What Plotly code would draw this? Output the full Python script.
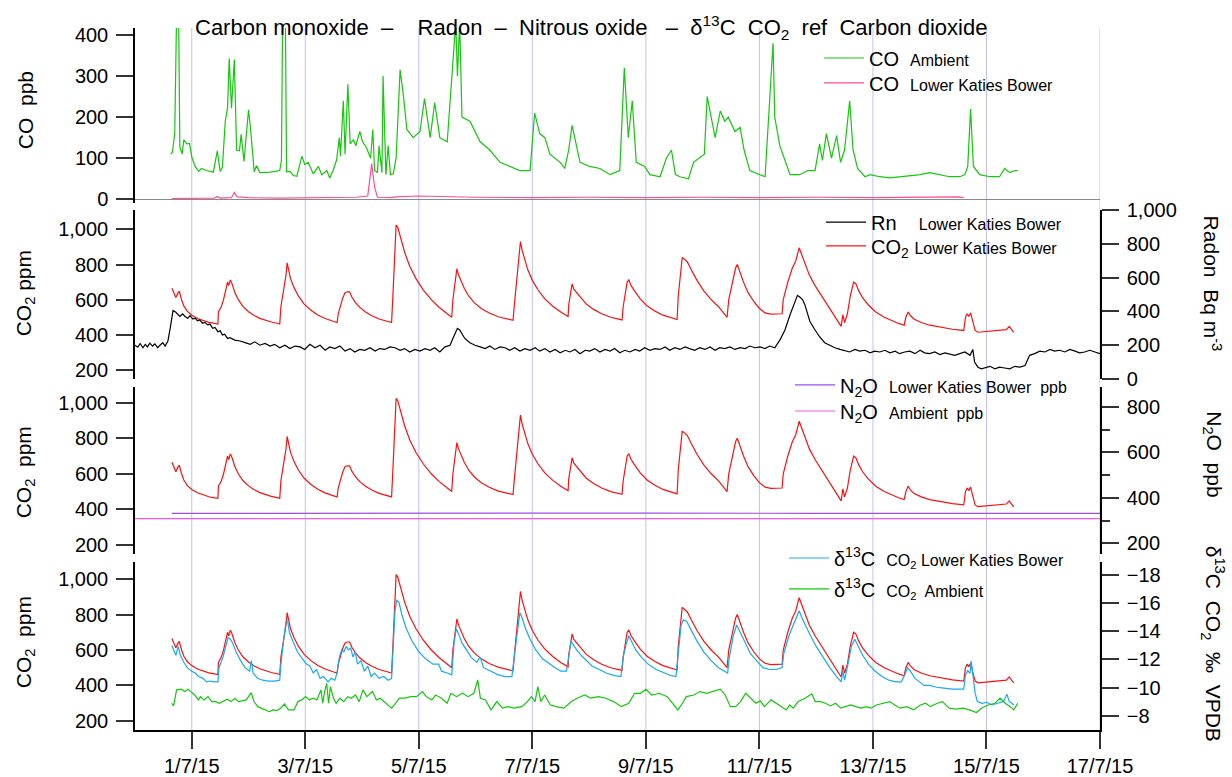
import pandas as pd
import plotly.graph_objects as go

# ---------------- data (time = days since 30/6/2015 00:00, i.e. 1.0 = 1/7/15 00:00) ----------------
co2_t = [0.65, 0.70, 0.72, 0.76, 0.78, 0.82, 0.86, 0.92, 1.00, 1.10, 1.20, 1.30, 1.40, 1.46,
         1.47, 1.52, 1.56, 1.60, 1.63, 1.65, 1.68, 1.71, 1.76, 1.82, 1.90, 2.00, 2.10, 2.20, 2.30, 2.40, 2.50, 2.55,
         2.57, 2.60, 2.63, 2.66, 2.68, 2.71, 2.74, 2.80, 2.88, 2.98, 3.10, 3.22, 3.35, 3.50, 3.56,
         3.58, 3.62, 3.66, 3.70, 3.74, 3.78, 3.82, 3.88, 3.96, 4.06, 4.18, 4.30, 4.42, 4.52,
         4.54, 4.57, 4.60, 4.63, 4.68, 4.75, 4.84, 4.95, 5.08, 5.22, 5.36, 5.50, 5.58,
         5.60, 5.64, 5.67, 5.70, 5.74, 5.80, 5.88, 5.98, 6.10, 6.24, 6.40, 6.55, 6.66,
         6.68, 6.72, 6.76, 6.79, 6.82, 6.86, 6.92, 7.00, 7.10, 7.22, 7.36, 7.50, 7.63,
         7.64, 7.67, 7.70, 7.73, 7.78, 7.85, 7.95, 8.08, 8.22, 8.38, 8.52, 8.58,
         8.60, 8.64, 8.67, 8.70, 8.74, 8.80, 8.90, 9.02, 9.16, 9.30, 9.45, 9.55,
         9.57, 9.61, 9.64, 9.68, 9.73, 9.80, 9.90, 10.02, 10.15, 10.28, 10.38, 10.43,
         10.46, 10.52, 10.58, 10.61, 10.65, 10.72, 10.80, 10.90, 11.00, 11.10, 11.20, 11.30, 11.40,
         11.42, 11.50, 11.58, 11.64, 11.70, 11.74, 11.80, 11.88, 11.98, 12.10, 12.22, 12.34, 12.44,
         12.47, 12.50, 12.55, 12.60, 12.66, 12.70, 12.75, 12.82, 12.92, 13.05, 13.20, 13.35, 13.45, 13.55,
         13.58, 13.62, 13.66, 13.72, 13.85, 14.00, 14.20, 14.40, 14.60,
         14.63, 14.66, 14.69, 14.72, 14.76, 14.80, 14.85, 15.00, 15.20, 15.35, 15.40, 15.44, 15.48]
co2_lkb = [665, 625, 612, 640, 648, 600, 565, 535, 512, 493, 480, 471, 465, 462,
           530, 560, 600, 650, 700, 680, 712, 690, 640, 600, 562, 532, 510, 494, 482, 473, 466, 462,
           560, 620, 700, 740, 810, 770, 720, 670, 620, 575, 540, 513, 493, 476, 470,
           520, 570, 610, 640, 645, 645, 615, 585, 556, 530, 507, 490, 478, 470,
           600, 850, 1025, 1010, 950, 870, 790, 720, 655, 600, 556, 520, 500,
           600, 700, 775, 740, 710, 665, 620, 582, 550, 524, 503, 490, 483,
           560, 700, 850, 930, 880, 830, 770, 710, 655, 605, 563, 530, 505,
           570, 640, 690, 660, 640, 610, 575, 545, 520, 500, 488, 485,
           560, 650, 700, 712, 680, 650, 605, 565, 535, 512, 495, 487,
           620, 760, 840, 830, 815, 770, 710, 650, 600, 560, 520, 500,
           600, 700, 780, 800, 760, 700, 640, 590, 550, 525, 518, 518, 520,
           600, 700, 780, 820, 895, 860, 800, 740, 680, 620, 560, 500, 448,
           515, 470, 520, 620, 700, 690, 650, 610, 570, 530, 500, 478, 465, 455,
           500, 530, 510, 490, 470, 455, 442, 432, 425,
           500, 520, 505, 525, 470, 425, 415, 420, 425, 430, 448, 430, 414]

rn_t = [0.0, 0.05, 0.09, 0.14, 0.18, 0.22, 0.26, 0.31, 0.35, 0.40, 0.44, 0.49, 0.53, 0.58, 0.62, 0.67, 0.72,
        0.79, 0.84, 0.88, 0.93, 0.97, 1.02, 1.06, 1.10, 1.14, 1.19, 1.23, 1.28, 1.32, 1.37, 1.41, 1.46, 1.50,
        1.54, 1.58, 1.63, 1.67, 1.76, 1.85, 1.94, 2.03, 2.11, 2.20, 2.29, 2.38, 2.46, 2.55, 2.64, 2.73, 2.82,
        2.91, 2.99, 3.08, 3.17, 3.26, 3.35, 3.43, 3.52, 3.61, 3.70, 3.79, 3.87, 3.96, 4.05, 4.14, 4.23, 4.31,
        4.40, 4.49, 4.58, 4.67, 4.75, 4.84, 4.93, 5.02, 5.11, 5.20, 5.28, 5.37, 5.46, 5.55, 5.60, 5.64, 5.68,
        5.72, 5.77, 5.81, 5.90, 5.99, 6.08, 6.17, 6.25, 6.34, 6.43, 6.52, 6.60, 6.69, 6.78, 6.87, 6.96, 7.05,
        7.13, 7.22, 7.31, 7.40, 7.49, 7.58, 7.66, 7.75, 7.84, 7.93, 8.01, 8.10, 8.19, 8.28, 8.37, 8.45, 8.54,
        8.63, 8.72, 8.81, 8.89, 8.98, 9.07, 9.16, 9.25, 9.34, 9.42, 9.51, 9.60, 9.69, 9.77, 9.86, 9.95, 10.04,
        10.13, 10.22, 10.30, 10.39, 10.48, 10.57, 10.66, 10.75, 10.83, 10.92, 11.01, 11.10, 11.18, 11.27,
        11.36, 11.45, 11.54, 11.62, 11.67, 11.71, 11.76, 11.80, 11.85, 11.89, 11.98, 12.06, 12.15, 12.24,
        12.33, 12.42, 12.50, 12.59, 12.68, 12.77, 12.86, 12.95, 13.03, 13.12, 13.21, 13.30, 13.39, 13.47,
        13.56, 13.65, 13.74, 13.83, 13.91, 14.00, 14.09, 14.18, 14.27, 14.35, 14.44, 14.53, 14.62, 14.71,
        14.76, 14.79, 14.85, 14.91, 14.97, 15.06, 15.15, 15.23, 15.32, 15.41, 15.50, 15.59, 15.68, 15.76,
        15.85, 15.94, 16.03, 16.12, 16.20, 16.29, 16.38, 16.47, 16.56, 16.64, 16.73, 16.82, 16.91, 17.0]
rn_lkb = [200, 188, 210, 185, 205, 190, 212, 195, 208, 185, 200, 215, 195, 225, 300, 405, 395,
          370, 385, 370, 360, 375, 355, 360, 345, 350, 330, 335, 320, 325, 300, 305, 280, 285,
          260, 265, 240, 245, 230, 225, 215, 205, 220, 200, 210, 195, 205, 185, 200, 180, 195,
          190, 175, 205, 185, 200, 170, 190, 180, 195, 165, 180, 160, 175, 170, 185, 165, 180,
          175, 190, 185, 170, 180, 160, 175, 165, 180, 170, 185, 160, 190, 200, 240, 270, 300,
          290, 260, 240, 215, 200, 190, 180, 195, 175, 190, 185, 170, 185, 165, 180, 170, 185,
          165, 180, 160, 175, 155, 170, 160, 175, 150, 170, 165, 180, 160, 175, 165, 180, 155,
          170, 160, 175, 165, 185, 170, 180, 175, 190, 170, 185, 175, 190, 180, 170, 185, 175,
          190, 170, 185, 180, 190, 175, 185, 180, 195, 185, 190, 180, 195, 185,
          230, 290, 380, 450, 495, 485, 470, 440, 390, 340, 290, 250, 215, 200,
          185, 175, 170, 160, 175, 165, 170, 155, 165, 160, 170, 155, 165, 150,
          160, 165, 150, 170, 155, 150, 160, 145, 155, 150, 140, 150, 160, 140,
          175, 100, 70, 60, 65, 75, 60, 70, 65, 60, 75, 70, 80, 140,
          150, 165, 160, 175, 165, 170, 160, 175, 165, 155, 160, 170, 160, 150]

co_t = [0.63, 0.66, 0.70, 0.73, 0.77, 0.79, 0.83, 0.86, 0.91, 0.96, 1.00, 1.06, 1.12, 1.17, 1.26, 1.38,
        1.45, 1.50, 1.54, 1.59, 1.63, 1.66, 1.70, 1.75, 1.79, 1.84, 1.87, 1.92, 2.00, 2.04, 2.10, 2.14, 2.20,
        2.38, 2.55, 2.58, 2.60, 2.65, 2.67, 2.73, 2.79, 2.85, 2.94, 2.99, 3.05, 3.14, 3.23, 3.29, 3.38,
        3.43, 3.49, 3.55, 3.60, 3.62, 3.67, 3.70, 3.75, 3.79, 3.85, 3.89, 3.96, 4.01, 4.08, 4.15, 4.19,
        4.22, 4.27, 4.30, 4.35, 4.37, 4.42, 4.46, 4.50, 4.55, 4.60, 4.67, 4.73, 4.79, 4.90, 5.02, 5.10,
        5.20, 5.28, 5.37, 5.50, 5.65, 5.68, 5.72, 5.76, 5.90, 6.08, 6.25, 6.43, 6.60, 6.78, 6.96, 7.04,
        7.13, 7.22, 7.31, 7.49, 7.57, 7.64, 7.70, 7.84, 8.01, 8.19, 8.37, 8.54, 8.62, 8.69, 8.76, 8.83,
        8.98, 9.07, 9.25, 9.36, 9.45, 9.52, 9.60, 9.75, 9.84, 10.03, 10.08, 10.22, 10.31, 10.39, 10.45,
        10.57, 10.66, 10.73, 10.83, 11.01, 11.10, 11.24, 11.27, 11.36, 11.54, 11.71, 11.85, 11.98, 12.06,
        12.11, 12.18, 12.27, 12.36, 12.43, 12.50, 12.59, 12.65, 12.73, 12.86, 12.95, 13.12, 13.30, 13.47,
        13.65, 13.83, 14.00, 14.18, 14.35, 14.53, 14.62, 14.67, 14.72, 14.77, 14.88, 15.06, 15.23, 15.32,
        15.41, 15.50, 15.55]
co_amb = [110, 115, 160, 430, 430, 128, 110, 145, 135, 136, 103, 80, 68, 75, 70, 66,
          118, 68, 78, 190, 222, 343, 222, 340, 120, 118, 158, 92, 218, 165, 67, 82, 65,
          66, 70, 95, 430, 430, 67, 68, 58, 56, 105, 85, 90, 62, 80, 60, 70,
          52, 70, 95, 150, 105, 240, 110, 280, 135, 145, 130, 165, 140, 125, 100, 170,
          70, 65, 130, 65, 300, 60, 130, 60, 62, 100, 315, 250, 170, 150, 165, 245,
          150, 235, 150, 140, 430, 300, 430, 200, 190, 140, 120, 90, 80, 70, 70, 210,
          160, 150, 110, 90, 75, 120, 180, 90, 80, 75, 60, 70, 320, 150, 240, 90,
          80, 60, 55, 100, 120, 60, 55, 50, 90, 110, 250, 150, 215, 190, 200,
          165, 175, 120, 70, 60, 55, 380, 200, 130, 60, 60, 70, 70, 135,
          95, 160, 100, 155, 90, 120, 240, 120, 75, 55, 60, 55, 52, 55,
          58, 60, 65, 60, 55, 55, 60, 80, 220, 80, 60, 55, 55, 75,
          65, 70, 70]

co_lkb_t = [0.65, 1.00, 1.40, 1.45, 1.50, 1.70, 1.75, 1.80, 2.00, 2.50, 3.00, 3.50, 3.90, 4.10, 4.17, 4.22,
            4.27, 4.50, 4.60, 5.00, 5.50, 6.00, 7.00, 8.00, 9.00, 10.00, 11.00, 12.00, 13.00, 14.00, 14.50, 14.60]
co_lkb = [2, 3, 3, 7, 3, 4, 17, 6, 4, 3, 4, 5, 5, 8, 87, 30, 5, 4, 6, 8, 6, 5, 4, 5, 4, 5, 4, 5, 4, 5, 6, 4]

n2o_lkb_t = [0.65, 3.0, 6.0, 9.0, 12.0, 15.0, 17.0]
n2o_lkb = [332, 333, 332, 333, 332, 332, 332]
n2o_amb_t = [0.0, 4.0, 8.0, 12.0, 17.0]
n2o_amb = [309, 309, 309, 309, 309]

d13_lkb_t = [0.65, 0.68, 0.72, 0.76, 0.80, 0.86, 0.92, 1.00, 1.06, 1.12, 1.20, 1.26, 1.32, 1.40, 1.46,
             1.48, 1.55, 1.60, 1.64, 1.68, 1.72, 1.78, 1.86, 1.94, 2.02, 2.05, 2.08, 2.16, 2.25, 2.35, 2.45, 2.55,
             2.57, 2.62, 2.66, 2.69, 2.72, 2.78, 2.86, 2.95, 3.02, 3.08, 3.14, 3.20, 3.26, 3.32, 3.40, 3.46, 3.52,
             3.56, 3.60, 3.64, 3.68, 3.72, 3.76, 3.80, 3.84, 3.88, 3.92, 3.98, 4.04, 4.10, 4.16, 4.22, 4.30, 4.38,
             4.46, 4.52, 4.55, 4.58, 4.61, 4.65, 4.70, 4.78, 4.88, 5.00, 5.12, 5.25, 5.35, 5.40, 5.50, 5.58,
             5.62, 5.66, 5.70, 5.76, 5.84, 5.92, 6.02, 6.08, 6.14, 6.26, 6.40, 6.52, 6.64,
             6.68, 6.73, 6.78, 6.82, 6.88, 6.96, 7.06, 7.18, 7.30, 7.40, 7.50, 7.60,
             7.64, 7.68, 7.72, 7.78, 7.86, 7.95, 8.05, 8.18, 8.30, 8.45, 8.56,
             8.60, 8.65, 8.70, 8.75, 8.82, 8.92, 9.04, 9.18, 9.32, 9.45, 9.53,
             9.57, 9.62, 9.66, 9.72, 9.80, 9.90, 10.02, 10.15, 10.28, 10.40, 10.44,
             10.47, 10.54, 10.60, 10.66, 10.74, 10.84, 10.95, 11.06, 11.18, 11.30, 11.40,
             11.43, 11.52, 11.60, 11.66, 11.70, 11.75, 11.82, 11.90, 12.00, 12.12, 12.24, 12.36, 12.44,
             12.47, 12.50, 12.56, 12.62, 12.68, 12.74, 12.82, 12.92, 13.04, 13.16, 13.28, 13.40, 13.50,
             13.56, 13.61, 13.66, 13.74, 13.82, 13.90, 14.00, 14.12, 14.25, 14.40, 14.60,
             14.63, 14.67, 14.71, 14.73, 14.77, 14.80, 14.84, 14.92, 15.00, 15.10, 15.20, 15.30, 15.36, 15.40,
             15.45, 15.48]
d13_lkb = [-12.99, -12.67, -12.29, -12.92, -12.29, -11.79, -11.41, -11.16, -11.03, -10.78, -10.65, -10.40,
           -10.46, -10.40, -10.40,
           -11.41, -12.16, -12.92, -13.55, -13.43, -13.17, -12.54, -11.91, -11.41, -11.16, -11.91, -11.03,
           -10.65, -10.52, -10.46, -10.46, -10.52,
           -11.66, -13.43, -14.69, -14.69, -13.93, -13.30, -12.54, -12.04, -11.66, -11.53, -11.03, -11.28,
           -10.65, -10.78, -10.40, -10.65, -10.52,
           -11.03, -12.16, -12.67, -12.54, -12.92, -12.67, -12.80, -12.16, -12.54, -11.66, -11.91, -11.16,
           -11.53, -10.78, -11.03, -10.65, -10.78,
           -10.52, -10.65, -13.30, -15.45, -16.20, -16.07, -15.19, -14.18, -13.30, -12.54, -12.04, -11.66,
           -11.66, -11.16, -11.03, -10.90,
           -13.17, -14.18, -13.81, -13.17, -12.67, -12.16, -11.79, -12.16, -11.41, -11.16, -10.90, -10.78,
           -10.78,
           -12.16, -13.93, -15.32, -14.94, -14.18, -13.43, -12.67, -12.04, -11.66, -11.41, -11.16, -11.16,
           -12.16, -13.30, -13.05, -12.67, -12.29, -11.91, -11.53, -11.28, -11.03, -10.84, -10.78,
           -12.16, -13.05, -13.68, -13.30, -12.67, -12.16, -11.66, -11.28, -11.03, -10.84, -10.78,
           -12.67, -14.44, -14.81, -14.69, -14.06, -13.30, -12.54, -11.91, -11.41, -11.16, -11.03,
           -12.16, -13.68, -14.44, -13.93, -13.17, -12.42, -11.91, -11.41, -11.28, -11.28, -11.41,
           -12.42, -13.68, -14.44, -14.94, -15.45, -14.94, -14.31, -13.68, -12.92, -12.16, -11.41, -10.78,
           -10.40,
           -11.16, -10.52, -11.66, -12.92, -13.43, -12.92, -12.29, -11.66, -11.16, -10.78, -10.52, -10.40,
           -10.40,
           -10.90, -11.41, -11.16, -10.65, -10.40, -10.15, -10.15, -10.02, -9.96, -9.89, -9.89,
           -10.90, -11.20, -11.00, -11.90, -10.50, -9.60, -9.01, -8.88, -8.95, -8.76, -8.88, -9.01, -9.52, -9.01,
           -8.88, -8.76]

d13_amb_t = [0.646, 0.68, 0.733, 0.814, 0.881, 0.933, 0.983, 1.050, 1.118, 1.152, 1.219, 1.286, 1.353, 1.421,
             1.488, 1.555, 1.624, 1.691, 1.758, 1.825, 1.893, 1.960, 2.048, 2.096, 2.163, 2.230, 2.297, 2.365,
             2.430, 2.501, 2.566, 2.635, 2.702, 2.802, 2.871, 2.938, 3.005, 3.072, 3.140, 3.205, 3.276, 3.307,
             3.341, 3.376, 3.410, 3.443, 3.496, 3.544, 3.610, 3.679, 3.746, 3.813, 3.882, 3.949, 4.016, 4.082,
             4.185, 4.252, 4.318, 4.385, 4.454, 4.521, 4.588, 4.657, 4.755, 4.859, 4.960, 5.060, 5.129, 5.229,
             5.296, 5.398, 5.498, 5.565, 5.667, 5.768, 5.870, 5.970, 6.037, 6.085, 6.173, 6.273, 6.375, 6.476,
             6.576, 6.678, 6.812, 6.914, 6.981, 7.048, 7.096, 7.150, 7.217, 7.318, 7.420, 7.554, 7.689, 7.790,
             7.925, 8.026, 8.161, 8.295, 8.431, 8.565, 8.700, 8.801, 8.903, 9.003, 9.105, 9.239, 9.375, 9.475,
             9.563, 9.644, 9.711, 9.845, 9.951, 10.071, 10.190, 10.310, 10.398, 10.488, 10.578, 10.668,
             10.757, 10.847, 10.937, 11.015, 11.087, 11.206, 11.294, 11.384, 11.474, 11.534, 11.594, 11.684,
             11.804, 11.923, 11.983, 12.073, 12.163, 12.251, 12.341, 12.430, 12.520, 12.610, 12.700, 12.790,
             12.880, 12.969, 13.059, 13.177, 13.297, 13.387, 13.476, 13.596, 13.716, 13.836, 13.926, 14.014,
             14.134, 14.224, 14.343, 14.463, 14.583, 14.703, 14.822, 14.910, 15.030, 15.150, 15.239, 15.329,
             15.419, 15.480, 15.551]
d13_amb = [-8.88, -8.69, -9.83, -9.88, -9.71, -9.88, -9.71, -9.47, -9.12, -9.35, -9.12, -9.35, -9.00, -9.00,
           -8.88, -9.00, -9.17, -9.00, -9.24, -9.00, -9.05, -9.12, -9.63, -9.00, -8.64, -8.53, -8.41, -8.28,
           -8.41, -8.36, -8.53, -8.83, -8.41, -8.41, -9.00, -9.12, -9.35, -9.12, -9.24, -9.12, -9.83, -8.88,
           -9.71, -10.30, -8.88, -10.06, -9.24, -8.88, -9.24, -9.00, -9.35, -9.24, -9.47, -9.00, -9.83, -9.35,
           -9.71, -9.12, -9.24, -9.00, -8.76, -8.53, -8.88, -9.24, -9.24, -9.35, -9.35, -9.71, -9.35, -9.12,
           -9.47, -9.24, -8.88, -9.59, -9.35, -9.59, -9.35, -9.59, -10.54, -9.24, -9.12, -8.41, -9.00, -8.53,
           -8.64, -8.53, -8.64, -9.00, -9.35, -9.00, -10.06, -9.00, -9.47, -8.76, -8.64, -8.53, -9.00, -9.24,
           -9.47, -9.24, -9.35, -9.24, -9.00, -8.64, -8.88, -9.59, -9.59, -9.88, -9.47, -9.59, -9.35, -8.88,
           -8.41, -8.88, -9.35, -9.47, -9.71, -9.59, -9.71, -9.88, -9.47, -8.64, -8.64, -9.00,
           -9.59, -9.24, -8.88, -9.05, -8.64, -9.12, -8.88, -8.64, -8.41, -8.76, -8.53, -9.00,
           -9.24, -9.55, -9.00, -9.00, -8.88, -8.69, -8.88, -8.53, -8.64, -8.76, -8.64, -8.53,
           -8.64, -8.53, -8.76, -8.88, -9.00, -8.76, -8.53, -8.64, -8.41, -8.76, -8.88, -8.64,
           -8.88, -9.00, -8.53, -8.46, -8.53, -8.41, -8.22, -8.53, -8.76, -8.88, -9.24, -8.88,
           -8.64, -8.41, -8.88]

tick_days = [1, 3, 5, 7, 9, 11, 13, 15, 17]
tick_labels = ["1/7/15", "3/7/15", "5/7/15", "7/7/15", "9/7/15", "11/7/15", "13/7/15", "15/7/15", "17/7/15"]

# ---------------- helpers ----------------
BASE = pd.Timestamp("2015-06-30")


def ts(days):
    return BASE + pd.to_timedelta(pd.Series(days, dtype=float), unit="D")


FONT = "Arial, 'Liberation Sans', sans-serif"
C_GREEN = "#14c80c"
C_PINK = "#ff4d94"
C_RED = "#ff1010"
C_BLUE = "#19a9f5"
C_PURPLE = "#9b4dea"
C_MAG = "#ff5ad2"
BIG = 20
SMALL = 16
LW = 1.2


def small(s):
    return f"<span style='font-size:{SMALL}px'>{s}</span>"


fig = go.Figure()

# panel 1 : CO
fig.add_trace(go.Scatter(x=ts(co_t), y=co_amb, mode="lines", line=dict(color=C_GREEN, width=LW),
                         name="CO  " + small("Ambient"), xaxis="x", yaxis="y7", legend="legend"))
fig.add_trace(go.Scatter(x=ts(co_lkb_t), y=co_lkb, mode="lines", line=dict(color=C_PINK, width=LW),
                         name="CO  " + small("Lower Katies Bower"), xaxis="x", yaxis="y7", legend="legend2"))

# panel 2 : Radon + CO2
fig.add_trace(go.Scatter(x=ts(rn_t), y=rn_lkb, mode="lines", line=dict(color="black", width=LW),
                         name="Rn    " + small("Lower Katies Bower"), xaxis="x", yaxis="y6", legend="legend3"))
fig.add_trace(go.Scatter(x=ts(co2_t), y=co2_lkb, mode="lines", line=dict(color=C_RED, width=LW),
                         name="CO<sub>2</sub> " + small("Lower Katies Bower"),
                         xaxis="x", yaxis="y5", legend="legend4"))

# panel 3 : N2O + CO2
fig.add_trace(go.Scatter(x=ts(co2_t), y=co2_lkb, mode="lines", line=dict(color=C_RED, width=LW),
                         showlegend=False, xaxis="x", yaxis="y3"))
fig.add_trace(go.Scatter(x=ts(n2o_lkb_t), y=n2o_lkb, mode="lines", line=dict(color=C_PURPLE, width=LW),
                         name="N<sub>2</sub>O  " + small("Lower Katies Bower  ppb"),
                         xaxis="x", yaxis="y4", legend="legend5"))
fig.add_trace(go.Scatter(x=ts(n2o_amb_t), y=n2o_amb, mode="lines", line=dict(color=C_MAG, width=LW),
                         name="N<sub>2</sub>O  " + small("Ambient  ppb"),
                         xaxis="x", yaxis="y4", legend="legend6"))

# panel 4 : d13C + CO2
fig.add_trace(go.Scatter(x=ts(co2_t), y=co2_lkb, mode="lines", line=dict(color=C_RED, width=LW),
                         showlegend=False, xaxis="x", yaxis="y"))
fig.add_trace(go.Scatter(x=ts(d13_lkb_t), y=d13_lkb, mode="lines", line=dict(color=C_BLUE, width=LW),
                         name="δ<sup>13</sup>C  " + small("CO<sub>2</sub> Lower Katies Bower"),
                         xaxis="x", yaxis="y2", legend="legend7"))
fig.add_trace(go.Scatter(x=ts(d13_amb_t), y=d13_amb, mode="lines", line=dict(color=C_GREEN, width=LW),
                         name="δ<sup>13</sup>C  " + small("CO<sub>2</sub>  Ambient"),
                         xaxis="x", yaxis="y2", legend="legend8"))

axis_common = dict(showline=True, linecolor="black", linewidth=1.5, ticks="outside", ticklen=17,
                   tickwidth=1.5, tickcolor="#333333", showgrid=False, zeroline=False, automargin=False,
                   tickfont=dict(family=FONT, size=BIG, color="black"), ticklabelstandoff=4)

P1 = [0.7507, 1.0]
P2 = [0.5, 0.7407]
P3 = [0.2507, 0.4886]
P4 = [0.0, 0.2393]

tick_dates = [str(d.date()) for d in ts(tick_days)]

fig.update_layout(
    width=1232, height=777,
    margin=dict(l=135, r=132, t=28, b=47, autoexpand=False),
    paper_bgcolor="white", plot_bgcolor="white",
    font=dict(family=FONT, size=BIG, color="black"),
    xaxis=dict(type="date", range=["2015-06-30", "2015-07-17"], tickvals=tick_dates, ticktext=tick_labels,
               anchor="y", **{**axis_common, "ticklen": 17, "ticklabelstandoff": 0}),
    yaxis=dict(domain=P4, range=[149, 1096], tickvals=[200, 400, 600, 800, 1000], tickformat=",", anchor="x",
               **axis_common),
    yaxis2=dict(overlaying="y", side="right", range=[-6.98, -18.92], tickvals=[-18, -16, -14, -12, -10, -8],
                anchor="x", **axis_common),
    yaxis3=dict(domain=P3, range=[149, 1088], tickvals=[200, 400, 600, 800, 1000], tickformat=",", anchor="x",
                **axis_common),
    yaxis4=dict(overlaying="y3", side="right", range=[153, 888], tickvals=[200, 400, 600, 800], anchor="x",
                minor=dict(tickvals=[300, 500, 700], ticklen=8, tickcolor="#333333", tickwidth=1.5,
                           ticks="outside"),
                **axis_common),
    yaxis5=dict(domain=P2, range=[149, 1110], tickvals=[200, 400, 600, 800, 1000], tickformat=",", anchor="x",
                **axis_common),
    yaxis6=dict(overlaying="y5", side="right", range=[0, 1000], tickvals=[0, 200, 400, 600, 800, 1000],
                tickformat=",", anchor="x", **axis_common),
    yaxis7=dict(domain=P1, range=[-9, 417], tickvals=[0, 100, 200, 300, 400], anchor="x",
                **{**axis_common, "zeroline": True, "zerolinecolor": "#8a8a8a", "zerolinewidth": 1}),
)

leg_common = dict(bgcolor="rgba(0,0,0,0)", borderwidth=0, xanchor="left", yanchor="middle",
                  font=dict(family=FONT, size=BIG, color="black"), itemwidth=40)
# legend positions (paper coords) for each entry
leg_pos = {"legend": (0.7088, 0.9573), "legend2": (0.7088, 0.9217),
           "legend3": (0.7109, 0.7236), "legend4": (0.7109, 0.6895),
           "legend5": (0.6788, 0.4915), "legend6": (0.6788, 0.4544),
           "legend7": (0.6725, 0.2450), "legend8": (0.6725, 0.2009)}
fig.update_layout(**{k: dict(x=v[0], y=v[1], **leg_common) for k, v in leg_pos.items()})

# vertical date grid lines
for d in tick_dates:
    fig.add_shape(type="line", xref="x", yref="paper", x0=d, x1=d, y0=0, y1=1, layer="below",
                  line=dict(color="rgba(140,140,255,0.55)", width=1))

# texts: title and axis titles
fig.add_annotation(text="Carbon monoxide  –    Radon  –  Nitrous oxide   –  δ<sup>13</sup>C  CO<sub>2</sub>  ref  Carbon dioxide",
                   xref="paper", yref="paper", x=0.0601, y=1.001, showarrow=False, xanchor="left",
                   yanchor="middle", font=dict(family=FONT, size=22))
left_titles = [("CO  ppb", 0.8829), ("CO<sub>2</sub> ppm", 0.622), ("CO<sub>2</sub>  ppm", 0.367),
               ("CO<sub>2</sub>  ppm", 0.125)]
for txt, yy in left_titles:
    fig.add_annotation(text=txt, xref="paper", yref="paper", x=-0.114, y=yy, showarrow=False, textangle=-90,
                       xanchor="center", yanchor="middle", font=dict(family=FONT, size=21))
right_titles = [("Radon  Bq m<sup>-3</sup>", 0.636), ("N<sub>2</sub>O  ppb", 0.393),
                ("δ<sup>13</sup>C  CO<sub>2</sub>  ‰  VPDB", 0.123)]
for txt, yy in right_titles:
    fig.add_annotation(text=txt, xref="paper", yref="paper", x=1.117, y=yy, showarrow=False, textangle=90,
                       xanchor="center", yanchor="middle", font=dict(family=FONT, size=21))

fig.write_html("out.html")
